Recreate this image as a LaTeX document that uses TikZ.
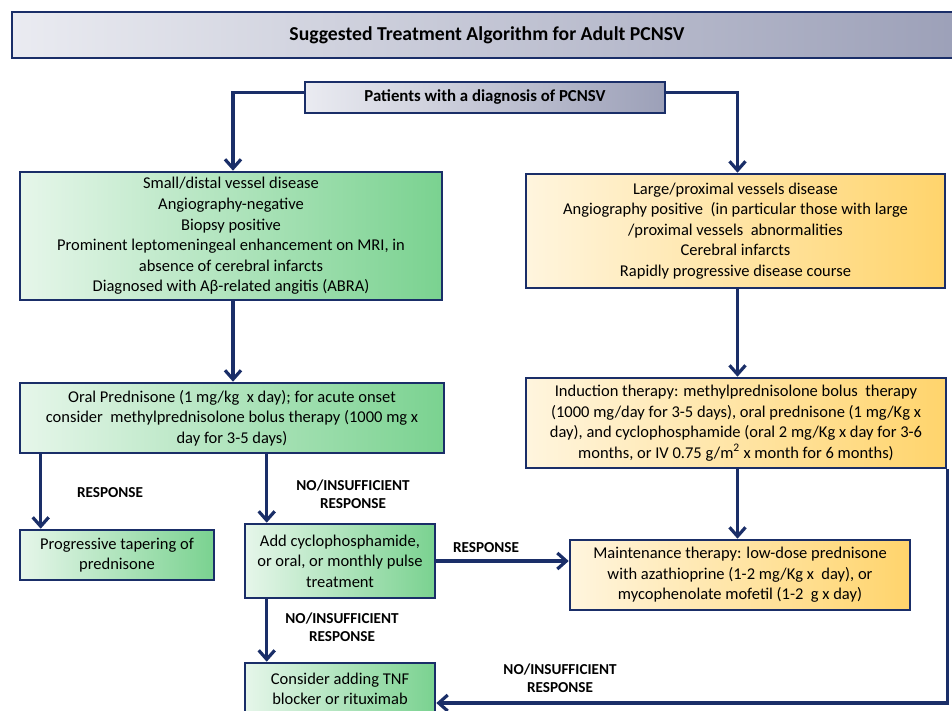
\documentclass[tikz,border=0pt]{standalone}
\usepackage{fontspec}
\setmainfont{Carlito}
\usetikzlibrary{arrows.meta,positioning}
\definecolor{navy}{RGB}{26,46,104}
\definecolor{grnL}{RGB}{230,246,234}
\definecolor{grnR}{RGB}{122,210,144}
\definecolor{ylwL}{RGB}{255,245,222}
\definecolor{ylwR}{RGB}{255,212,108}
\definecolor{gryL}{RGB}{234,235,241}
\definecolor{gryR}{RGB}{156,160,184}

\begin{document}
\begin{tikzpicture}[x=1pt,y=-1pt,>={Straight Barb[length=9pt,width=16pt]},
conn/.style={->,line width=3.2pt,draw=navy},
box/.style={draw=navy,line width=2.6pt,align=center,inner sep=0pt,font=\fontsize{16.5}{20.6}\selectfont},
greenbox/.style={box,left color=grnL,right color=grnR},
yellowbox/.style={box,left color=ylwL,right color=ylwR},
greybox/.style={box,left color=gryL,right color=gryR,font=\fontsize{19.7}{22}\selectfont\bfseries},
lbl/.style={align=center,inner sep=0pt,font=\fontsize{15.2}{18.5}\selectfont\bfseries}]
\useasboundingbox (0,0) rectangle (952,710);
\clip (0,0) rectangle (952,710);

% header
\node[greybox,minimum width=950pt,minimum height=46pt] (title) at (487,35) {Suggested Treatment Algorithm for Adult PCNSV};
\node[greybox,minimum width=360pt,minimum height=31pt,font=\fontsize{16.8}{18}\selectfont\bfseries] (pat) at (485,97.5) {Patients with a diagnosis of PCNSV};

% left branch
\node[greenbox,minimum width=422pt,minimum height=128pt] (small) at (231,236)
{Small/distal vessel disease\\Angiography-negative\\Biopsy positive\\
Prominent leptomeningeal enhancement on MRI, in\\absence of cerebral infarcts\\
Diagnosed with Aβ-related angitis (ABRA)};
\node[greenbox,minimum width=424pt,minimum height=70pt] (oral) at (232,418)
{Oral Prednisone (1 mg/kg\ \ x day); for acute onset\\
consider\ \ methylprednisolone bolus therapy (1000 mg x\\day for 3-5 days)};
\node[greenbox,minimum width=194pt,minimum height=50pt] (taper) at (117,555)
{Progressive tapering of\\prednisone};
\node[greenbox,minimum width=190pt,minimum height=74pt] (addcyc) at (340,561)
{Add cyclophosphamide,\\or oral, or monthly pulse\\treatment};
\node[greenbox,minimum width=190pt,minimum height=52pt] (tnf) at (340,689)
{Consider adding TNF\\blocker or rituximab};

% right branch
\node[yellowbox,minimum width=419pt,minimum height=114pt] (large) at (735.5,231)
{Large/proximal vessels disease\\
Angiography positive\ \ (in particular those with large\\
/proximal vessels\ \ abnormalities\\Cerebral infarcts\\
Rapidly progressive disease course};
\node[yellowbox,minimum width=420pt,minimum height=90pt] (induct) at (736,423)
{Induction therapy: methylprednisolone bolus\ \ therapy\\
(1000 mg/day for 3-5 days), oral prednisone (1 mg/Kg x\\
day), and cyclophosphamide (oral 2 mg/Kg x day for 3-6\\
months, or IV 0.75 g/m\textsuperscript{2} x month for 6 months)};
\node[yellowbox,minimum width=340pt,minimum height=70pt] (maint) at (740,575)
{Maintenance therapy: low-dose prednisone\\
with azathioprine (1-2 mg/Kg x\ \ day), or\\
mycophenolate mofetil (1-2\ \ g x day)};

% connectors
\coordinate (lcol) at ([xshift=2pt]small.south);
\coordinate (rcol) at ([xshift=2pt]large.south);
\coordinate (c1) at ([xshift=23pt]addcyc.north west);
\coordinate (c2) at ([xshift=22pt]taper.north west);
\coordinate (back) at ([yshift=-14pt]tnf.east);
\draw[conn] ([yshift=5pt]pat.west) -| (lcol |- small.north);
\draw[conn] ([yshift=5pt]pat.east) -| (rcol |- large.north);
\draw[conn] (lcol) -- (lcol |- oral.north);
\draw[conn] (rcol) -- (rcol |- induct.north);
\draw[conn] (c2 |- oral.south) -- (c2);
\draw[conn] (c1 |- oral.south) -- (c1);
\draw[conn] (addcyc.east) -- (addcyc.east -| maint.west);
\draw[conn] (rcol |- induct.south) -- (rcol |- maint.north);
\draw[conn] (c1 |- addcyc.south) -- (c1 |- tnf.north);
\draw[conn] (induct.south east) |- (back);

% labels
\node[lbl] (resp1) at (110,493) {RESPONSE};
\node[lbl] (noresp1) at (353,494) {NO/INSUFFICIENT\\RESPONSE};
\node[lbl] (resp2) at (486,548) {RESPONSE};
\node[lbl] (noresp2) at (342,627) {NO/INSUFFICIENT\\RESPONSE};
\node[lbl] (noresp3) at (560,678) {NO/INSUFFICIENT\\RESPONSE};
\end{tikzpicture}
\end{document}
